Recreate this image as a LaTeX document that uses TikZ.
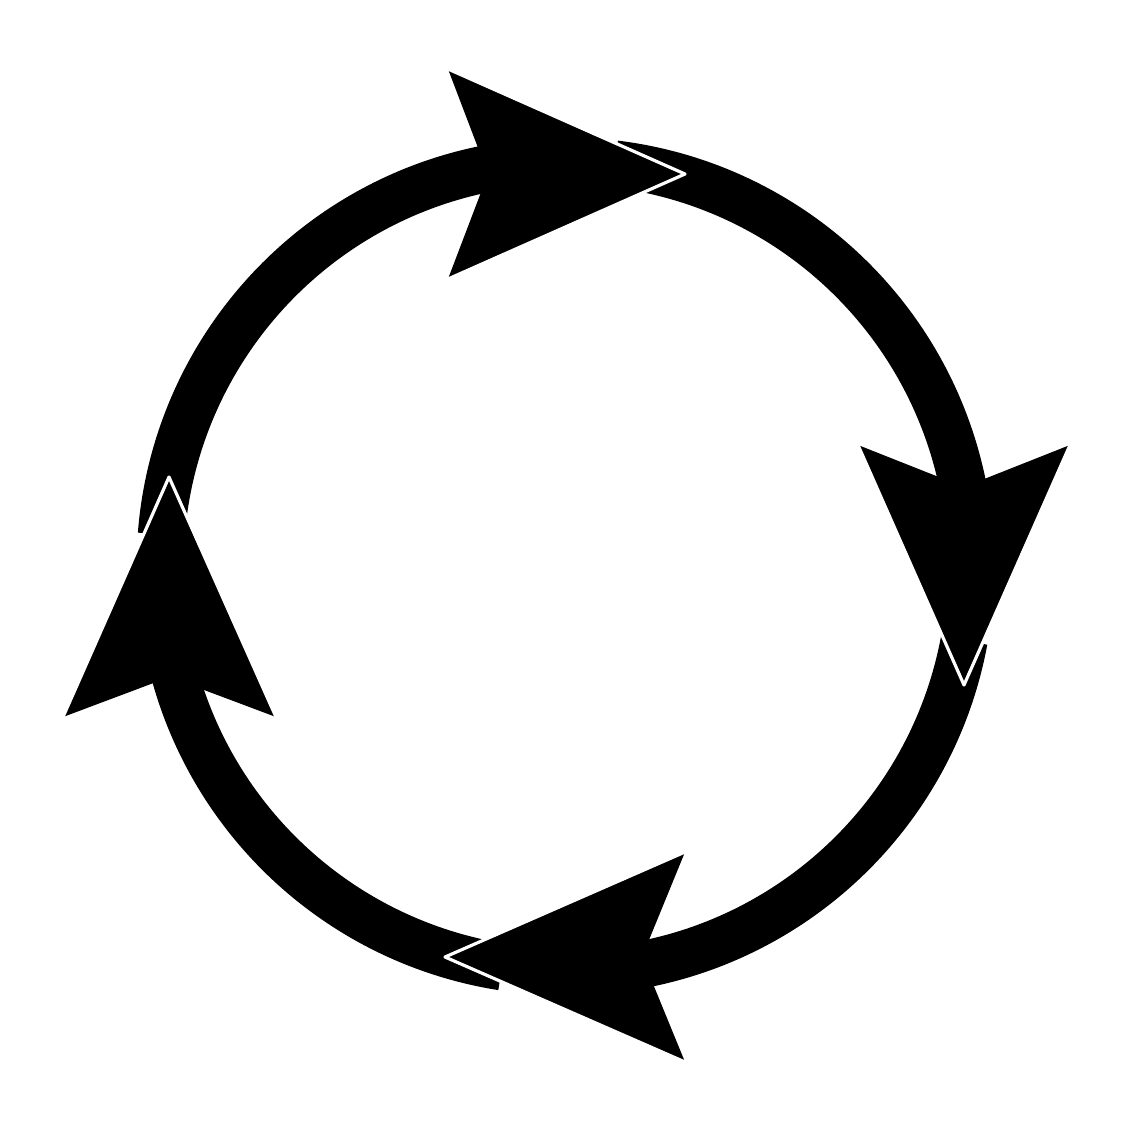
\documentclass[tikz,border=0pt]{standalone}
\usepackage{tikz}
\usetikzlibrary{calc}

\begin{document}
\begin{tikzpicture}
            \tikzstyle{ring}=[line width=0.47cm,draw=black]
            \tikzstyle{head}=[fill=black]
            \tikzstyle{rim}=[draw=white,line width=0.9pt,line join=round,line cap=round]
            \useasboundingbox (0,0) rectangle (11.22,-11.22);
            \coordinate (o) at (5.655,-5.664);
            % arcs, clockwise
            \draw[ring] ($(o)+(175.5:4.055)$) arc (175.5:99:4.055);
            \draw[ring] ($(o)+(83:4.055)$) arc (83:9:4.055);
            \draw[ring] ($(o)+(-10.5:4.055)$) arc (-10.5:-81:4.055);
            \draw[ring] ($(o)+(-99:4.055)$) arc (-99:-166:4.055);
            % top head
            \coordinate (ta) at (4.48,-0.69);
            \coordinate (tb) at (6.85,-1.74);
            \coordinate (tc) at (4.48,-2.79);
            \coordinate (tn) at (4.88,-1.74);
            % right head
            \coordinate (ra) at (10.70,-4.45);
            \coordinate (rb) at (9.64,-6.85);
            \coordinate (rc) at (8.58,-4.45);
            \coordinate (rn) at (9.64,-4.87);
            % bottom head
            \coordinate (ba) at (6.85,-10.62);
            \coordinate (bb) at (4.45,-9.57);
            \coordinate (bc) at (6.85,-8.52);
            \coordinate (bn) at (6.42,-9.57);
            % left head
            \coordinate (la) at (0.63,-7.17);
            \coordinate (lb) at (1.69,-4.77);
            \coordinate (lc) at (2.76,-7.17);
            \coordinate (ln) at (1.695,-6.77);
            \foreach \h in {t,r,b,l} {
                \fill[head] (\h a) -- (\h b) -- (\h c) -- (\h n) -- cycle;
                \draw[rim] (\h a) -- (\h b) -- (\h c);
            }
\end{tikzpicture}
\end{document}
